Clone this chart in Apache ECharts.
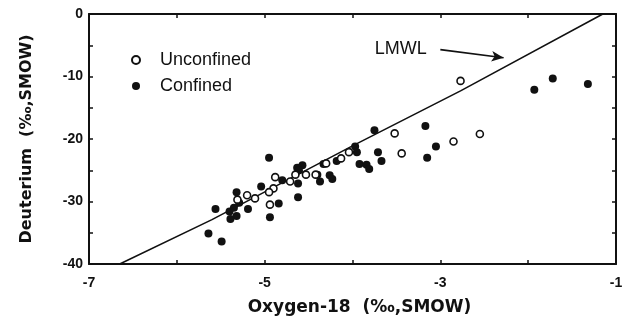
<!DOCTYPE html>
<html>
<head>
<meta charset="utf-8">
<script src="https://cdn.jsdelivr.net/npm/echarts@6/dist/echarts.min.js"></script>
<style>
html,body{margin:0;padding:0;background:#fff;}
#chart{width:628px;height:321px;}
</style>
</head>
<body>
<div id="chart"></div>
<script>
// Data
var unconfinedX = [-2.77,-3.52,-3.44,-2.85,-2.55,-4.04,-4.13,-4.30,-4.42,-4.53,-4.65,-4.71,-4.88,-4.90,-4.95,-4.94,-5.11,-5.20,-5.31];
var unconfinedY = [-10.7,-19.1,-22.3,-20.4,-19.2,-22.1,-23.1,-23.9,-25.7,-25.7,-25.7,-26.8,-26.1,-27.9,-28.5,-30.5,-29.5,-29.0,-29.7];
var confinedX = [-1.93,-1.72,-1.32,-3.17,-3.05,-3.15,-3.75,-3.71,-3.67,-3.97,-3.95,-3.92,-3.84,-3.81,-4.18,-4.26,-4.23,-4.37,-4.40,-4.33,-4.57,-4.63,-4.61,-4.62,-4.62,-4.95,-4.84,-4.94,-5.04,-4.80,-5.32,-5.29,-5.19,-5.32,-5.39,-5.40,-5.35,-5.56,-5.64,-5.49];
var confinedY = [-12.1,-10.3,-11.2,-17.9,-21.2,-23.0,-18.6,-22.1,-23.5,-21.2,-22.1,-24.0,-24.1,-24.8,-23.5,-25.8,-26.4,-26.8,-25.7,-24.0,-24.2,-24.6,-25.0,-27.1,-29.3,-23.0,-30.3,-32.5,-27.6,-26.6,-28.5,-30.2,-31.2,-32.3,-32.8,-31.6,-31.0,-31.2,-35.1,-36.4];
var lmwlX = [-6.65, -5.6, -4.0, -2.77, -1.15];
var lmwlY = [-40, -32.9, -21.1, -12.3, 0];
var xLabels = [-7, -5, -3, -1];
var yLabels = [0, -10, -20, -30, -40];
var lmwlLabel = 'LMWL';
var lmwlLabelPos = [-3.45, -5.6];
var lmwlArrow = [[-3.0, -5.7], [-2.28, -7.0]];

function zip(a, b) { return a.map(function (v, i) { return [v, b[i]]; }); }

var chart = echarts.init(document.getElementById('chart'), null, {renderer: 'canvas'});
var axisFont = {color: '#111', fontFamily: 'Liberation Sans, Arial, sans-serif', fontWeight: 'bold', fontSize: 14};
var lineStyle = {color: '#111', width: 2};

function xAxisCfg(show, pos) {
  return {
    type: 'value', min: -7, max: -1, interval: 1, position: pos,
    axisLine: {show: true, onZero: false, lineStyle: lineStyle},
    axisTick: {show: true, inside: true, length: 4, lineStyle: {color: '#111', width: 1.5}},
    splitLine: {show: false},
    axisLabel: {show: show, margin: 12, textStyle: axisFont,
      formatter: function (v) { return xLabels.indexOf(v) >= 0 ? String(v) : ''; }},
  };
}
function yAxisCfg(show, pos) {
  return {
    type: 'value', min: -40, max: 0, interval: 5, position: pos,
    axisLine: {show: true, onZero: false, lineStyle: lineStyle},
    axisTick: {show: true, inside: true, length: 4, lineStyle: {color: '#111', width: 1.5}},
    splitLine: {show: false},
    axisLabel: {show: show, margin: 6, textStyle: axisFont,
      formatter: function (v) { return yLabels.indexOf(v) >= 0 ? String(v) : ''; }},
  };
}

var xa = xAxisCfg(true, 'bottom');
xa.name = 'Oxygen-18  (‰,SMOW)';
xa.nameLocation = 'middle';
xa.nameGap = 35;
xa.nameTextStyle = {color: '#111', fontFamily: 'DejaVu Sans, sans-serif', fontWeight: 'bold', fontSize: 17, padding: [0, 0, 0, 14]};
var ya = yAxisCfg(true, 'left');
ya.name = 'Deuterium  (‰,SMOW)';
ya.nameLocation = 'middle';
ya.nameGap = 54;
ya.nameTextStyle = {color: '#111', fontFamily: 'DejaVu Sans, sans-serif', fontWeight: 'bold', fontSize: 16};

var option = {
  backgroundColor: '#fff',
  animation: false,
  grid: {left: 89, right: 12, top: 14, bottom: 55},
  legend: {
    orient: 'vertical', left: 126, top: 46, itemGap: 8,
    itemWidth: 8, itemHeight: 8,
    textStyle: {color: '#111', fontFamily: 'Liberation Sans, Arial, sans-serif', fontSize: 18, lineHeight: 18, padding: [0, 0, 0, 15]},
    data: [{name: 'Unconfined', icon: 'circle'}, {name: 'Confined', icon: 'circle'}]
  },
  xAxis: [xa, xAxisCfg(false, 'top')],
  yAxis: [ya, yAxisCfg(false, 'right')],
  series: [
    {
      name: 'LMWL', type: 'line', data: zip(lmwlX, lmwlY), symbol: 'none', smooth: false,
      lineStyle: {color: '#111', width: 1.6}, z: 2,
      markLine: {
        silent: true, symbol: ['none', 'arrow'], symbolSize: [8, 12],
        lineStyle: {color: '#111', width: 1.6, type: 'solid'},
        label: {show: false},
        data: [[{coord: lmwlArrow[0]}, {coord: lmwlArrow[1]}]]
      },
      markPoint: {
        silent: true, symbol: 'circle', symbolSize: 0,
        label: {show: true, position: 'inside', formatter: lmwlLabel, color: '#111',
          fontFamily: 'Liberation Sans, Arial, sans-serif', fontSize: 18},
        data: [{coord: lmwlLabelPos}]
      }
    },
    {
      name: 'Unconfined', type: 'scatter', data: zip(unconfinedX, unconfinedY),
      symbol: 'circle', symbolSize: 7,
      itemStyle: {color: '#fff', borderColor: '#111', borderWidth: 1.6, opacity: 1}, z: 4
    },
    {
      name: 'Confined', type: 'scatter', data: zip(confinedX, confinedY),
      symbol: 'circle', symbolSize: 8,
      itemStyle: {color: '#111', opacity: 1}, z: 3
    }
  ]
};
chart.setOption(option);
</script>
</body>
</html>
